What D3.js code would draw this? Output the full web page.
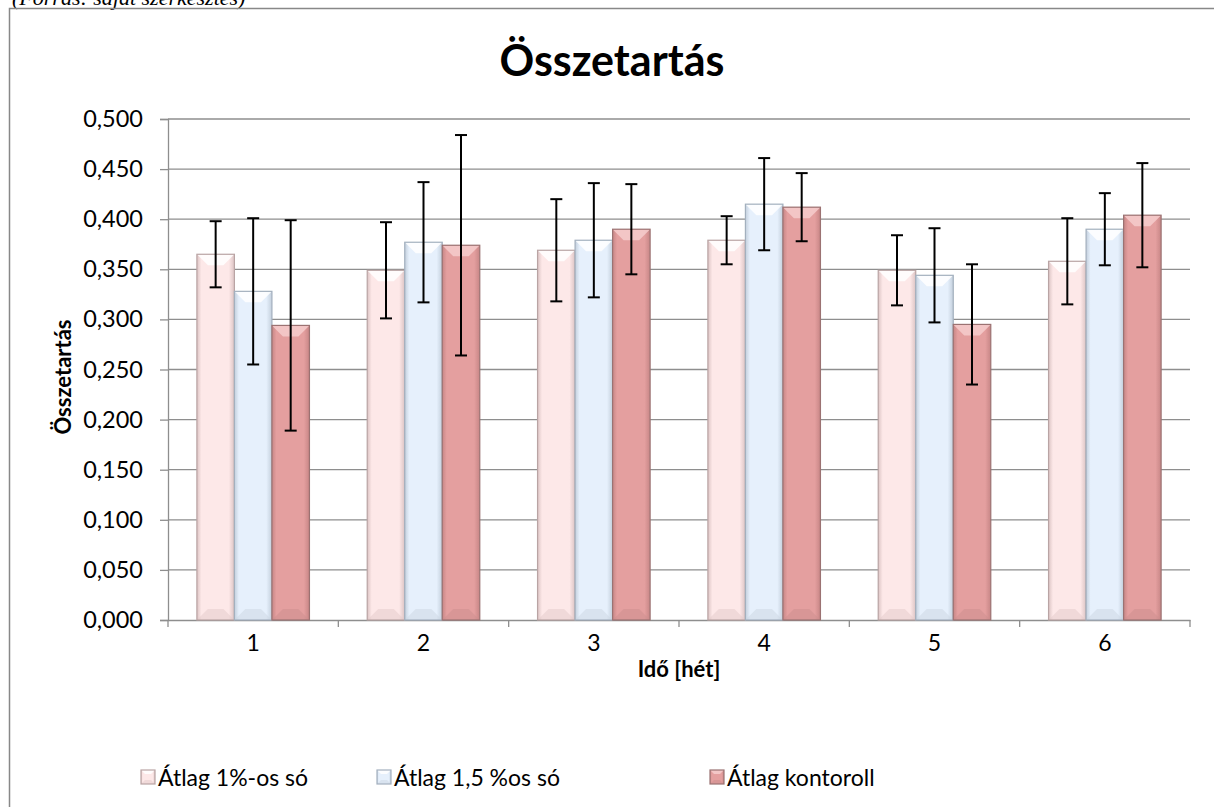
<!DOCTYPE html>
<html><head><meta charset="utf-8">
<script src="https://cdn.jsdelivr.net/npm/d3@7"></script>
<style>
html,body{margin:0;padding:0;background:#fff;overflow:hidden;}
svg{display:block;font-family:Lato,"Open Sans",sans-serif;}
</style></head>
<body>
<svg id="c" width="1214" height="807"></svg>
<script>
const categories = ["1","2","3","4","5","6"];
const seriesNames = ["Átlag 1%-os só","Átlag 1,5 %os só","Átlag kontoroll"];
const mean1  = [0.365,0.349,0.369,0.379,0.349,0.358];
const mean15 = [0.328,0.377,0.379,0.415,0.344,0.390];
const meanK  = [0.294,0.374,0.390,0.412,0.295,0.404];
const err1  = [0.033,0.048,0.051,0.024,0.035,0.043];
const err15 = [0.073,0.060,0.057,0.046,0.047,0.036];
const errK  = [0.105,0.110,0.045,0.034,0.060,0.052];
const yTicks = [0,0.05,0.1,0.15,0.2,0.25,0.3,0.35,0.4,0.45,0.5];

const series = [
  {name:seriesNames[0], values:mean1, errs:err1, main:"#fde8e8", edge:"#dcc4c4", border:"#b9a4a4", top:"#ffffff", bottom:"#e3caca"},
  {name:seriesNames[1], values:mean15, errs:err15, main:"#e6f0fc", edge:"#c3cfdc", border:"#a3b0be", top:"#ffffff", bottom:"#cbd6e2"},
  {name:seriesNames[2], values:meanK, errs:errK, main:"#e49f9f", edge:"#c78686", border:"#9b7272", top:"#f6cccc", bottom:"#cc8d8d"}
];

const svg = d3.select("#c");
const defs = svg.append("defs");
series.forEach((s,i)=>{
  const g = defs.append("linearGradient").attr("id","g"+i).attr("x1","0").attr("x2","1").attr("y1","0").attr("y2","0");
  g.append("stop").attr("offset","0").attr("stop-color",s.edge);
  g.append("stop").attr("offset","0.12").attr("stop-color",s.main);
  g.append("stop").attr("offset","0.85").attr("stop-color",s.main);
  g.append("stop").attr("offset","1").attr("stop-color",s.edge);
});

// caption at top (cut off in the reference)
svg.append("text").attr("x",12).attr("y",5)
  .attr("font-family","'Liberation Serif','DejaVu Serif',serif").attr("font-style","italic")
  .attr("font-size",22).attr("fill","#000").text("(Forrás: saját szerkesztés)");

// chart border
svg.append("rect").attr("x",9.5).attr("y",8.5).attr("width",1230).attr("height",830)
  .attr("fill","none").attr("stroke","#888").attr("stroke-width",1.5);

const L=168, R=1190, T=119, B=620;
const x0 = d3.scaleBand().domain(categories).range([L,R]).paddingInner(0).paddingOuter(0);
const x1 = d3.scaleBand().domain([0,1,2]).range([0,x0.bandwidth()]).paddingInner(0).paddingOuter(0.77);
const y = d3.scaleLinear().domain([0,0.5]).range([B,T]);
const fmt = v => d3.format(".3f")(v).replace(".",",");

// gridlines
svg.append("g").selectAll("line").data(yTicks.slice(1)).join("line")
  .attr("x1",L).attr("x2",R).attr("y1",d=>y(d)).attr("y2",d=>y(d))
  .attr("stroke","#8e8e8e").attr("stroke-width",1.3);

// y axis
const yAxis = svg.append("g").attr("transform",`translate(${L},0)`)
  .call(d3.axisLeft(y).tickValues(yTicks).tickFormat(fmt).tickSize(8).tickPadding(17));
yAxis.select(".domain").attr("stroke","#8e8e8e").attr("stroke-width",1.3);
yAxis.selectAll(".tick line").attr("stroke","#8e8e8e").attr("stroke-width",1.3);
yAxis.selectAll("text").attr("font-size",23.5).attr("fill","#000").attr("font-family","Lato,sans-serif");

// x axis
const xAxis = svg.append("g").attr("transform",`translate(0,${B})`)
  .call(d3.axisBottom(x0).tickSize(0).tickPadding(15));
xAxis.select(".domain").attr("stroke","#8e8e8e").attr("stroke-width",1.3);
xAxis.selectAll("text").attr("font-size",23).attr("fill","#000").attr("font-family","Lato,sans-serif");
svg.append("g").selectAll("line").data(categories.map(c=>x0(c)).concat([R])).join("line")
  .attr("x1",d=>d).attr("x2",d=>d).attr("y1",B).attr("y2",B+7)
  .attr("stroke","#8e8e8e").attr("stroke-width",1.3);

function drawBar(g, x, yTop, w, yBot, s, i, bev){
  const h = yBot - yTop;
  const b = Math.min(bev, h/2);
  g.append("rect").attr("x",x).attr("y",yTop).attr("width",w).attr("height",h)
    .attr("fill",`url(#g${i})`);
  g.append("path").attr("d",`M${x},${yTop}L${x+w},${yTop}L${x+w-b},${yTop+b}L${x+b},${yTop+b}Z`)
    .attr("fill",s.top).attr("opacity",0.85);
  g.append("path").attr("d",`M${x},${yBot}L${x+w},${yBot}L${x+w-b},${yBot-b}L${x+b},${yBot-b}Z`)
    .attr("fill",s.bottom).attr("opacity",0.5);
  g.append("rect").attr("x",x).attr("y",yTop).attr("width",w).attr("height",h)
    .attr("fill","none").attr("stroke",s.border).attr("stroke-width",1.2);
}

// bars
const barsG = svg.append("g");
series.forEach((s,i)=>{
  categories.forEach((c,j)=>{
    const bx = x0(c)+x1(i);
    drawBar(barsG, bx, y(s.values[j]), x1.bandwidth(), B, s, i, 11);
  });
});

// error bars
const errG = svg.append("g").attr("stroke","#000").attr("stroke-width",2);
series.forEach((s,i)=>{
  categories.forEach((c,j)=>{
    const cx = x0(c)+x1(i)+x1.bandwidth()/2;
    const hi = y(s.values[j]+s.errs[j]), lo = y(s.values[j]-s.errs[j]);
    errG.append("line").attr("x1",cx).attr("x2",cx).attr("y1",hi).attr("y2",lo);
    errG.append("line").attr("x1",cx-6).attr("x2",cx+6).attr("y1",hi).attr("y2",hi);
    errG.append("line").attr("x1",cx-6).attr("x2",cx+6).attr("y1",lo).attr("y2",lo);
  });
});

// title
svg.append("text").attr("x",612).attr("y",76).attr("text-anchor","middle")
  .attr("font-size",43).attr("font-weight","bold").attr("fill","#000").text("Összetartás");

// axis titles
svg.append("text").attr("transform",`translate(71,377) rotate(-90)`).attr("text-anchor","middle")
  .attr("font-size",22).attr("font-weight","bold").attr("fill","#000").text("Összetartás");
svg.append("text").attr("x",(L+R)/2).attr("y",677).attr("text-anchor","middle")
  .attr("font-size",22).attr("font-weight","bold").attr("fill","#000").text("Idő [hét]");

// legend
const legX = [141, 377, 710];
series.forEach((s,i)=>{
  const g = svg.append("g");
  drawBar(g, legX[i], 770, 14, 784, s, i, 4);
  g.append("text").attr("x",legX[i]+17).attr("y",786).attr("font-size",23).attr("fill","#000").text(s.name);
});
</script>
</body></html>
